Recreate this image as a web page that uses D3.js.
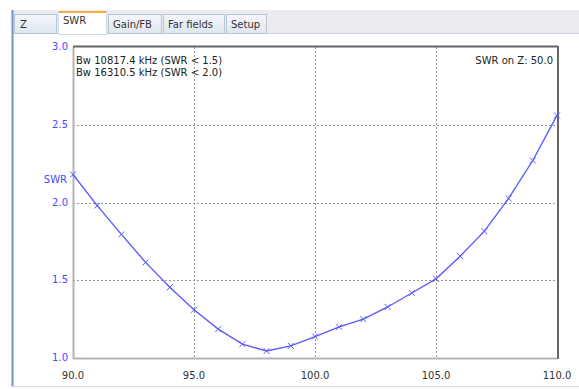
<!DOCTYPE html>
<html>
<head>
<meta charset="utf-8">
<script src="https://cdn.jsdelivr.net/npm/d3@7"></script>
<style>
body{margin:0;background:#fff;}
svg{display:block;font-family:"DejaVu Sans",sans-serif;}
</style>
</head>
<body>
<svg id="chart" width="579" height="389"></svg>
<script>
// frequency in MHz, swr
var freqs=[90,91,92,93,94,95,96,97,98,99,100,101,102,103,104,105,106,107,108,109,110];
var swr=[2.18,1.98,1.795,1.615,1.455,1.31,1.186,1.089,1.045,1.078,1.138,1.2,1.25,1.328,1.418,1.509,1.655,1.816,2.026,2.27,2.56];
var xticks=[90,95,100,105,110];
var yticks=[1.0,1.5,2.0,2.5,3.0];
var tabs=["Z","SWR","Gain/FB","Far fields","Setup"];
var infoLines=["Bw 10817.4 kHz (SWR < 1.5)","Bw 16310.5 kHz (SWR < 2.0)"];
var zLabel="SWR on Z: 50.0";

var svg=d3.select("#chart");

// window frame
svg.append("rect").attr("x",12).attr("y",10).attr("width",567).attr("height",23).attr("fill","#ebebef");
svg.append("line").attr("x1",12).attr("x2",579).attr("y1",33.5).attr("y2",33.5).attr("stroke","#c8d4e4");
svg.append("line").attr("x1",12.5).attr("x2",12.5).attr("y1",10).attr("y2",387).attr("stroke","#6f94c8").attr("stroke-width",2);
svg.append("line").attr("x1",12).attr("x2",579).attr("y1",386.5).attr("y2",386.5).attr("stroke","#d4dde9");

// tabs
var tabX=[14,58,108,163,226,268];
var grad=svg.append("defs").append("linearGradient").attr("id","tabg").attr("x1",0).attr("y1",0).attr("x2",0).attr("y2",1);
grad.append("stop").attr("offset","0%").attr("stop-color","#f4f6fa");
grad.append("stop").attr("offset","100%").attr("stop-color","#dfe6f0");
tabs.forEach(function(t,i){
    var sel=i==1;
    var g=svg.append("g");
    g.append("rect")
        .attr("x",tabX[i]+0.5).attr("y",sel?11.5:14.5)
        .attr("width",tabX[i+1]-tabX[i]-2).attr("height",sel?23:19)
        .attr("fill",sel?"#fff":"url(#tabg)")
        .attr("stroke",sel?"#d0d8e4":"#b9c6d8");
    if(sel){
        g.append("line").attr("x1",tabX[i]+1).attr("x2",tabX[i+1]-2).attr("y1",12).attr("y2",12)
            .attr("stroke","#f0b040").attr("stroke-width",2);
    }
    g.append("text").attr("x",i==0?tabX[i]+6:tabX[i]+5).attr("y",sel?24:28)
        .attr("font-size",10).attr("fill","#333").text(t);
});

// plot area (named plotL.. because window.top is read only)
var plotL=73,plotR=557,plotT=47,plotB=358;
var x=d3.scaleLinear().domain([90,110]).range([plotL,plotR]);
var y=d3.scaleLinear().domain([1,3]).range([plotB,plotT]);

var grid=svg.append("g").attr("stroke","#999").attr("stroke-dasharray","2,2").attr("stroke-width",1);
xticks.slice(1,-1).forEach(function(t){
    grid.append("line").attr("x1",Math.round(x(t))+0.5).attr("x2",Math.round(x(t))+0.5).attr("y1",plotT).attr("y2",plotB);
});
yticks.slice(1,-1).forEach(function(t){
    grid.append("line").attr("x1",plotL).attr("x2",plotR).attr("y1",Math.round(y(t))+0.5).attr("y2",Math.round(y(t))+0.5);
});

// frame: light left/bottom, dark top/right
svg.append("line").attr("x1",plotL+0.5).attr("x2",plotL+0.5).attr("y1",plotT).attr("y2",plotB+1).attr("stroke","#b4b4b4").attr("stroke-width",2);
svg.append("line").attr("x1",plotL).attr("x2",plotR).attr("y1",plotB+0.5).attr("y2",plotB+0.5).attr("stroke","#b4b4b4").attr("stroke-width",2);
svg.append("line").attr("x1",plotL).attr("x2",plotR+1).attr("y1",plotT-0.5).attr("y2",plotT-0.5).attr("stroke","#666").attr("stroke-width",2);
svg.append("line").attr("x1",plotR+1).attr("x2",plotR+1).attr("y1",plotT-1).attr("y2",plotB+1).attr("stroke","#666").attr("stroke-width",2);

// axes labels
svg.append("g").selectAll("text").data(xticks).join("text")
    .attr("x",function(d){return x(d);}).attr("y",plotB+21)
    .attr("text-anchor","middle").attr("font-size",10).attr("fill","#333")
    .text(function(d){return d.toFixed(1);});
svg.append("g").selectAll("text").data(yticks).join("text")
    .attr("x",plotL-5).attr("y",function(d){return y(d)+3;})
    .attr("text-anchor","end").attr("font-size",10).attr("fill","#4a4aff")
    .text(function(d){return d.toFixed(1);});
svg.append("text").attr("x",plotL-6).attr("y",183).attr("text-anchor","end")
    .attr("font-size",10).attr("fill","#4a4aff").text("SWR");

// info text
svg.append("g").selectAll("text").data(infoLines).join("text")
    .attr("x",plotL+3).attr("y",function(d,i){return 64+i*12;})
    .attr("font-size",10).attr("fill","#222").text(function(d){return d;});
svg.append("text").attr("x",plotR-4).attr("y",64).attr("text-anchor","end")
    .attr("font-size",10).attr("fill","#222").text(zLabel);

// curve, straight segments between the 1 MHz samples
var pts=freqs.map(function(f,i){return [f,swr[i]];});
var line=d3.line().x(function(d){return x(d[0]);}).y(function(d){return y(d[1]);});
svg.append("path").attr("d",line(pts)).attr("fill","none").attr("stroke","#5c5cff").attr("stroke-width",1.4);
svg.append("g").selectAll("path").data(pts).join("path")
    .attr("d",function(d){
        var cx=x(d[0]),cy=y(d[1]);
        return "M"+(cx-3)+","+(cy-3)+"L"+(cx+3)+","+(cy+3)+"M"+(cx-3)+","+(cy+3)+"L"+(cx+3)+","+(cy-3);
    })
    .attr("stroke","#5a5aff").attr("stroke-width",1).attr("fill","none");
</script>
</body>
</html>
